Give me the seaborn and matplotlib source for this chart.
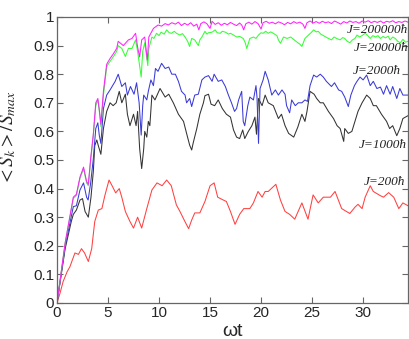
import matplotlib
matplotlib.use("Agg")
import matplotlib.pyplot as plt
import seaborn as sns
import pandas as pd

# ---- data (omega*t, <S_k>/S_max) ----
s_200 = [(0, 0), (0.3, 0.035), (0.6, 0.075), (1.0, 0.11), (1.27, 0.127), (1.5, 0.15), (1.76, 0.175),
         (2.1, 0.17), (2.4, 0.19), (2.7, 0.175), (3.07, 0.145), (3.4, 0.19), (3.7, 0.285),
         (4.05, 0.325), (4.4, 0.33), (4.7, 0.377), (5.1, 0.43), (5.4, 0.41), (5.75, 0.385),
         (6.1, 0.40), (6.35, 0.37), (6.7, 0.32), (7.15, 0.285), (7.5, 0.262), (7.9, 0.30),
         (8.3, 0.262), (8.8, 0.33), (9.3, 0.395), (9.8, 0.42), (10.3, 0.41), (10.75, 0.43),
         (11.2, 0.41), (11.7, 0.343), (12.05, 0.32), (12.55, 0.284), (12.9, 0.26), (13.2, 0.29),
         (13.5, 0.315), (14.0, 0.315), (14.5, 0.355), (15.0, 0.41), (15.4, 0.42), (15.75, 0.37),
         (16.3, 0.36), (16.6, 0.355), (17.0, 0.32), (17.45, 0.275), (17.9, 0.31), (18.3, 0.33),
         (18.9, 0.33), (19.25, 0.35), (19.7, 0.39), (20.1, 0.37), (20.4, 0.39), (20.7, 0.39),
         (21.0, 0.40), (21.45, 0.415), (21.9, 0.36), (22.35, 0.32), (22.8, 0.31), (23.3, 0.293),
         (24.0, 0.35), (24.6, 0.293), (25.1, 0.378), (25.6, 0.35), (26.1, 0.37), (26.8, 0.37),
         (27.25, 0.39), (27.9, 0.33), (28.7, 0.313), (29.2, 0.335), (29.5, 0.345), (29.9, 0.33),
         (30.2, 0.37), (30.7, 0.41), (31.0, 0.39), (31.7, 0.375), (32.0, 0.37), (32.5, 0.386),
         (33.0, 0.37), (33.5, 0.33), (33.9, 0.35), (34.4, 0.34)]

s_1000 = [(0, 0), (0.8, 0.19), (1.4, 0.285), (1.6, 0.31), (1.9, 0.325), (2.25, 0.36), (2.5, 0.365),
          (2.75, 0.32), (3.07, 0.30), (3.33, 0.37), (3.56, 0.46), (3.7, 0.55), (3.9, 0.57),
          (4.05, 0.55), (4.3, 0.52), (4.55, 0.61), (4.87, 0.67), (5.2, 0.70), (5.5, 0.69),
          (5.8, 0.70), (6.1, 0.74), (6.35, 0.70), (6.7, 0.73), (6.9, 0.66), (7.15, 0.62),
          (7.5, 0.66), (7.75, 0.62), (7.9, 0.67), (8.1, 0.54), (8.3, 0.47), (8.5, 0.54),
          (8.6, 0.60), (8.8, 0.58), (8.95, 0.635), (9.1, 0.62), (9.3, 0.727), (9.6, 0.71),
          (10.1, 0.75), (10.6, 0.72), (10.95, 0.73), (11.4, 0.70), (11.9, 0.66), (12.4, 0.635),
          (12.7, 0.593), (13.0, 0.552), (13.2, 0.535), (13.35, 0.56), (13.7, 0.61), (14.0, 0.66),
          (14.35, 0.70), (14.5, 0.725), (14.85, 0.73), (15.1, 0.695), (15.45, 0.69), (15.8, 0.71),
          (16.2, 0.68), (16.6, 0.66), (17.0, 0.65), (17.3, 0.605), (17.6, 0.58), (17.9, 0.575),
          (18.2, 0.605), (18.4, 0.575), (18.75, 0.60), (19.1, 0.62), (19.4, 0.65), (19.55, 0.59),
          (19.75, 0.715), (20.1, 0.69), (20.4, 0.727), (20.7, 0.70), (21.2, 0.69), (21.7, 0.645),
          (22.0, 0.66), (22.35, 0.62), (22.7, 0.593), (23.2, 0.58), (23.6, 0.615), (24.0, 0.66),
          (24.3, 0.635), (24.5, 0.67), (24.8, 0.74), (25.2, 0.73), (25.45, 0.715), (25.8, 0.70),
          (26.1, 0.70), (26.6, 0.67), (27.1, 0.645), (27.45, 0.62), (27.75, 0.61), (28.1, 0.565),
          (28.2, 0.61), (28.55, 0.593), (28.9, 0.60), (29.2, 0.635), (29.5, 0.67), (29.9, 0.70),
          (30.35, 0.727), (30.7, 0.715), (31.0, 0.69), (31.3, 0.69), (31.8, 0.66), (32.3, 0.635),
          (32.6, 0.61), (32.9, 0.62), (33.3, 0.585), (33.6, 0.61), (33.9, 0.645), (34.4, 0.655)]

s_2000 = [(0, 0), (0.8, 0.20), (1.6, 0.337), (1.9, 0.34), (2.25, 0.395), (2.6, 0.42), (2.9, 0.37),
          (3.05, 0.36), (3.3, 0.42), (3.56, 0.505), (3.8, 0.61), (4.0, 0.63), (4.15, 0.585),
          (4.3, 0.558), (4.55, 0.68), (4.87, 0.727), (5.2, 0.745), (5.7, 0.775), (6.0, 0.80),
          (6.35, 0.757), (6.7, 0.77), (6.9, 0.727), (7.2, 0.757), (7.55, 0.73), (7.8, 0.77),
          (8.05, 0.70), (8.25, 0.587), (8.4, 0.69), (8.5, 0.727), (8.8, 0.71), (8.95, 0.74),
          (9.2, 0.78), (9.45, 0.76), (9.65, 0.82), (9.9, 0.81), (10.25, 0.838), (10.6, 0.82),
          (10.95, 0.825), (11.25, 0.80), (11.6, 0.80), (11.9, 0.775), (12.2, 0.74), (12.55, 0.727),
          (12.7, 0.70), (13.0, 0.715), (13.2, 0.687), (13.5, 0.727), (13.85, 0.73), (14.2, 0.78),
          (14.5, 0.79), (14.85, 0.795), (15.2, 0.775), (15.4, 0.80), (15.8, 0.775), (16.15, 0.78),
          (16.5, 0.757), (16.8, 0.727), (17.1, 0.70), (17.4, 0.67), (17.6, 0.68), (17.8, 0.71),
          (18.1, 0.74), (18.25, 0.635), (18.4, 0.62), (18.7, 0.69), (18.9, 0.72), (19.25, 0.71),
          (19.5, 0.76), (19.6, 0.72), (19.75, 0.558), (19.9, 0.75), (20.2, 0.78), (20.4, 0.81),
          (20.7, 0.78), (21.05, 0.727), (21.4, 0.745), (21.7, 0.727), (22.05, 0.745), (22.35, 0.73),
          (22.5, 0.69), (22.8, 0.665), (23.0, 0.71), (23.35, 0.69), (23.65, 0.70), (24.0, 0.70),
          (24.3, 0.71), (24.55, 0.705), (24.8, 0.76), (25.15, 0.797), (25.45, 0.79), (25.8, 0.80),
          (26.1, 0.79), (26.4, 0.775), (26.9, 0.757), (27.2, 0.77), (27.6, 0.745), (27.9, 0.74),
          (28.2, 0.72), (28.55, 0.687), (28.8, 0.727), (29.15, 0.76), (29.4, 0.775), (29.7, 0.79),
          (30.0, 0.78), (30.35, 0.797), (30.7, 0.76), (31.0, 0.775), (31.35, 0.75), (31.7, 0.755),
          (32.0, 0.73), (32.3, 0.76), (32.65, 0.73), (32.9, 0.757), (33.3, 0.715), (33.6, 0.75),
          (33.9, 0.727), (34.4, 0.727)]

s_20000 = [(0, 0), (0.8, 0.21), (1.6, 0.366), (1.9, 0.376), (2.25, 0.436), (2.6, 0.47), (2.9, 0.42),
           (3.07, 0.41), (3.3, 0.50), (3.56, 0.587), (3.8, 0.69), (4.0, 0.71), (4.15, 0.67),
           (4.3, 0.617), (4.55, 0.727), (4.87, 0.827), (5.2, 0.845), (5.5, 0.86), (5.85, 0.88),
           (6.0, 0.90), (6.35, 0.89), (6.7, 0.862), (7.0, 0.89), (7.35, 0.89), (7.7, 0.92),
           (7.9, 0.88), (8.1, 0.83), (8.25, 0.79), (8.4, 0.88), (8.6, 0.91), (8.9, 0.83), (9.0, 0.89),
           (9.3, 0.93), (9.5, 0.925), (9.75, 0.943), (10.0, 0.935), (10.2, 0.947), (10.5, 0.94),
           (10.75, 0.955), (11.0, 0.945), (11.2, 0.943), (11.5, 0.95), (11.7, 0.943), (12.05, 0.937),
           (12.3, 0.942), (12.55, 0.93), (12.8, 0.915), (13.0, 0.897), (13.2, 0.925), (13.5, 0.92),
           (13.85, 0.90), (14.0, 0.92), (14.2, 0.93), (14.5, 0.95), (14.7, 0.94), (14.85, 0.945),
           (15.2, 0.947), (15.5, 0.955), (15.7, 0.945), (16.0, 0.943), (16.2, 0.95), (16.5, 0.947),
           (16.8, 0.94), (17.0, 0.943), (17.3, 0.937), (17.6, 0.93), (17.9, 0.932), (18.25, 0.925),
           (18.45, 0.91), (18.6, 0.89), (18.9, 0.925), (19.25, 0.93), (19.5, 0.925), (19.75, 0.937),
           (20.0, 0.945), (20.2, 0.943), (20.45, 0.95), (20.7, 0.943), (20.95, 0.948), (21.2, 0.943),
           (21.55, 0.935), (21.7, 0.92), (21.9, 0.908), (22.2, 0.93), (22.55, 0.925), (22.9, 0.93),
           (23.25, 0.92), (23.6, 0.91), (23.8, 0.905), (24.0, 0.897), (24.3, 0.925), (24.65, 0.937),
           (24.9, 0.945), (25.15, 0.955), (25.4, 0.948), (25.6, 0.95), (25.85, 0.94), (26.1, 0.935),
           (26.35, 0.93), (26.6, 0.925), (26.9, 0.92), (27.15, 0.93), (27.4, 0.925), (27.75, 0.92),
           (28.0, 0.928), (28.2, 0.925), (28.45, 0.915), (28.7, 0.91), (28.95, 0.92), (29.2, 0.925),
           (29.4, 0.937), (29.65, 0.93), (29.9, 0.935), (30.2, 0.943), (30.45, 0.935), (30.7, 0.925),
           (30.95, 0.935), (31.2, 0.93), (31.45, 0.935), (31.7, 0.925), (31.95, 0.932), (32.2, 0.927),
           (32.45, 0.933), (32.65, 0.92), (32.9, 0.93), (33.15, 0.925), (33.4, 0.915), (33.65, 0.91),
           (33.9, 0.922), (34.15, 0.912), (34.4, 0.915)]

s_200000 = [(0, 0), (0.8, 0.21), (1.6, 0.37), (1.9, 0.38), (2.25, 0.44), (2.6, 0.475), (2.9, 0.425),
            (3.07, 0.415), (3.3, 0.505), (3.56, 0.59), (3.8, 0.70), (4.0, 0.715), (4.15, 0.675),
            (4.3, 0.625), (4.55, 0.74), (4.87, 0.835), (5.2, 0.855), (5.5, 0.87), (5.85, 0.89),
            (6.0, 0.915), (6.5, 0.90), (7.0, 0.92), (7.35, 0.925), (7.7, 0.943), (7.9, 0.895),
            (8.1, 0.86), (8.3, 0.92), (8.6, 0.93), (8.85, 0.85), (9.0, 0.93), (9.45, 0.96),
            (9.9, 0.972), (10.25, 0.968), (10.6, 0.977), (10.9, 0.972), (11.25, 0.98), (11.6, 0.975),
            (11.9, 0.982), (12.2, 0.970), (12.5, 0.978), (12.8, 0.972), (13.1, 0.980), (13.4, 0.968),
            (13.7, 0.975), (13.9, 0.955), (14.1, 0.977), (14.4, 0.983), (14.7, 0.976), (15.0, 0.960),
            (15.2, 0.985), (15.5, 0.974), (15.8, 0.980), (16.1, 0.971), (16.4, 0.978), (16.7, 0.973),
            (17.0, 0.981), (17.3, 0.975), (17.6, 0.970), (17.9, 0.979), (18.1, 0.972), (18.3, 0.955),
            (18.5, 0.976), (18.8, 0.982), (19.1, 0.975), (19.4, 0.984), (19.7, 0.977), (20.0, 0.958),
            (20.2, 0.980), (20.5, 0.985), (20.8, 0.978), (21.1, 0.982), (21.4, 0.976), (21.7, 0.983),
            (22.0, 0.979), (22.3, 0.973), (22.6, 0.981), (22.9, 0.976), (23.2, 0.984), (23.5, 0.978),
            (23.8, 0.982), (24.1, 0.975), (24.3, 0.960), (24.5, 0.980), (24.8, 0.986), (25.1, 0.979),
            (25.4, 0.984), (25.7, 0.978), (26.0, 0.985), (26.3, 0.980), (26.6, 0.983), (26.9, 0.977),
            (27.2, 0.986), (27.5, 0.981), (27.8, 0.975), (28.1, 0.984), (28.4, 0.979), (28.7, 0.986),
            (29.0, 0.981), (29.3, 0.984), (29.6, 0.978), (29.9, 0.986), (30.2, 0.982), (30.5, 0.987),
            (30.8, 0.980), (31.1, 0.985), (31.4, 0.981), (31.7, 0.986), (32.0, 0.979), (32.3, 0.985),
            (32.6, 0.982), (32.9, 0.987), (33.2, 0.980), (33.5, 0.984), (33.8, 0.981), (34.1, 0.986),
            (34.4, 0.982)]

series_names = ['J=200ħ', 'J=1000ħ', 'J=2000ħ', 'J=20000ħ', 'J=200000ħ']
series_data = [s_200, s_1000, s_2000, s_20000, s_200000]
series_colors = ['#ff4040', '#333333', '#3a3ad6', '#33ff33', '#ff22ff']
# label anchor (right edge x in axes fraction, y in data units)
label_pos = [(0.993, 0.423), (0.997, 0.552), (0.98, 0.811), (1.0, 0.892), (1.0, 0.955)]

rows = []
for name, pts in zip(series_names, series_data):
    for t, v in pts:
        rows.append({'wt': t, 'S': v, 'J': name})
df = pd.DataFrame(rows)

sns.set_theme(style="white")
plt.rcParams['font.family'] = ['Liberation Sans', 'DejaVu Sans']
plt.rcParams['mathtext.fontset'] = 'stix'

fig = plt.figure(figsize=(4.09, 3.39), dpi=100)
ax = fig.add_axes([57 / 409, 1 - 303 / 339, 351 / 409, 286 / 339])

# draw the lines back to front: magenta on top
for name, color in zip(series_names, series_colors):
    sns.lineplot(data=df[df['J'] == name], x='wt', y='S', color=color, lw=0.75,
                 estimator=None, sort=False, ax=ax, legend=False)

for name, color, (lx, ly) in zip(series_names, series_colors, label_pos):
    ax.text(lx, ly, name, transform=ax.get_yaxis_transform(), ha='right', va='center',
            fontsize=9.5, style='italic', family=['Liberation Serif', 'DejaVu Serif'],
            color='#222222')

ax.set_xlim(0, 34.4)
ax.set_ylim(0, 1)
ax.set_xticks([0, 5, 10, 15, 20, 25, 30])
ax.set_yticks([0, 0.1, 0.2, 0.3, 0.4, 0.5, 0.6, 0.7, 0.8, 0.9, 1])
ax.set_yticklabels(['0', '0.1', '0.2', '0.3', '0.4', '0.5', '0.6', '0.7', '0.8', '0.9', '1'])
ax.tick_params(direction='in', length=4, width=0.8, color='#666666', labelsize=11,
               top=True, right=True, bottom=True, left=True, pad=2)
for sp in ax.spines.values():
    sp.set_color('#666666')
    sp.set_linewidth(0.9)

ax.set_xlabel('ωt', fontsize=14, labelpad=2)
# keep < and > as ordinary symbols so they sit tight against the letters
ax.set_ylabel(r'${<}S_k{>}/S_{max}$', fontsize=14)
ax.yaxis.set_label_coords(-0.11, 0.577)

fig.savefig('out.png', dpi=100)
